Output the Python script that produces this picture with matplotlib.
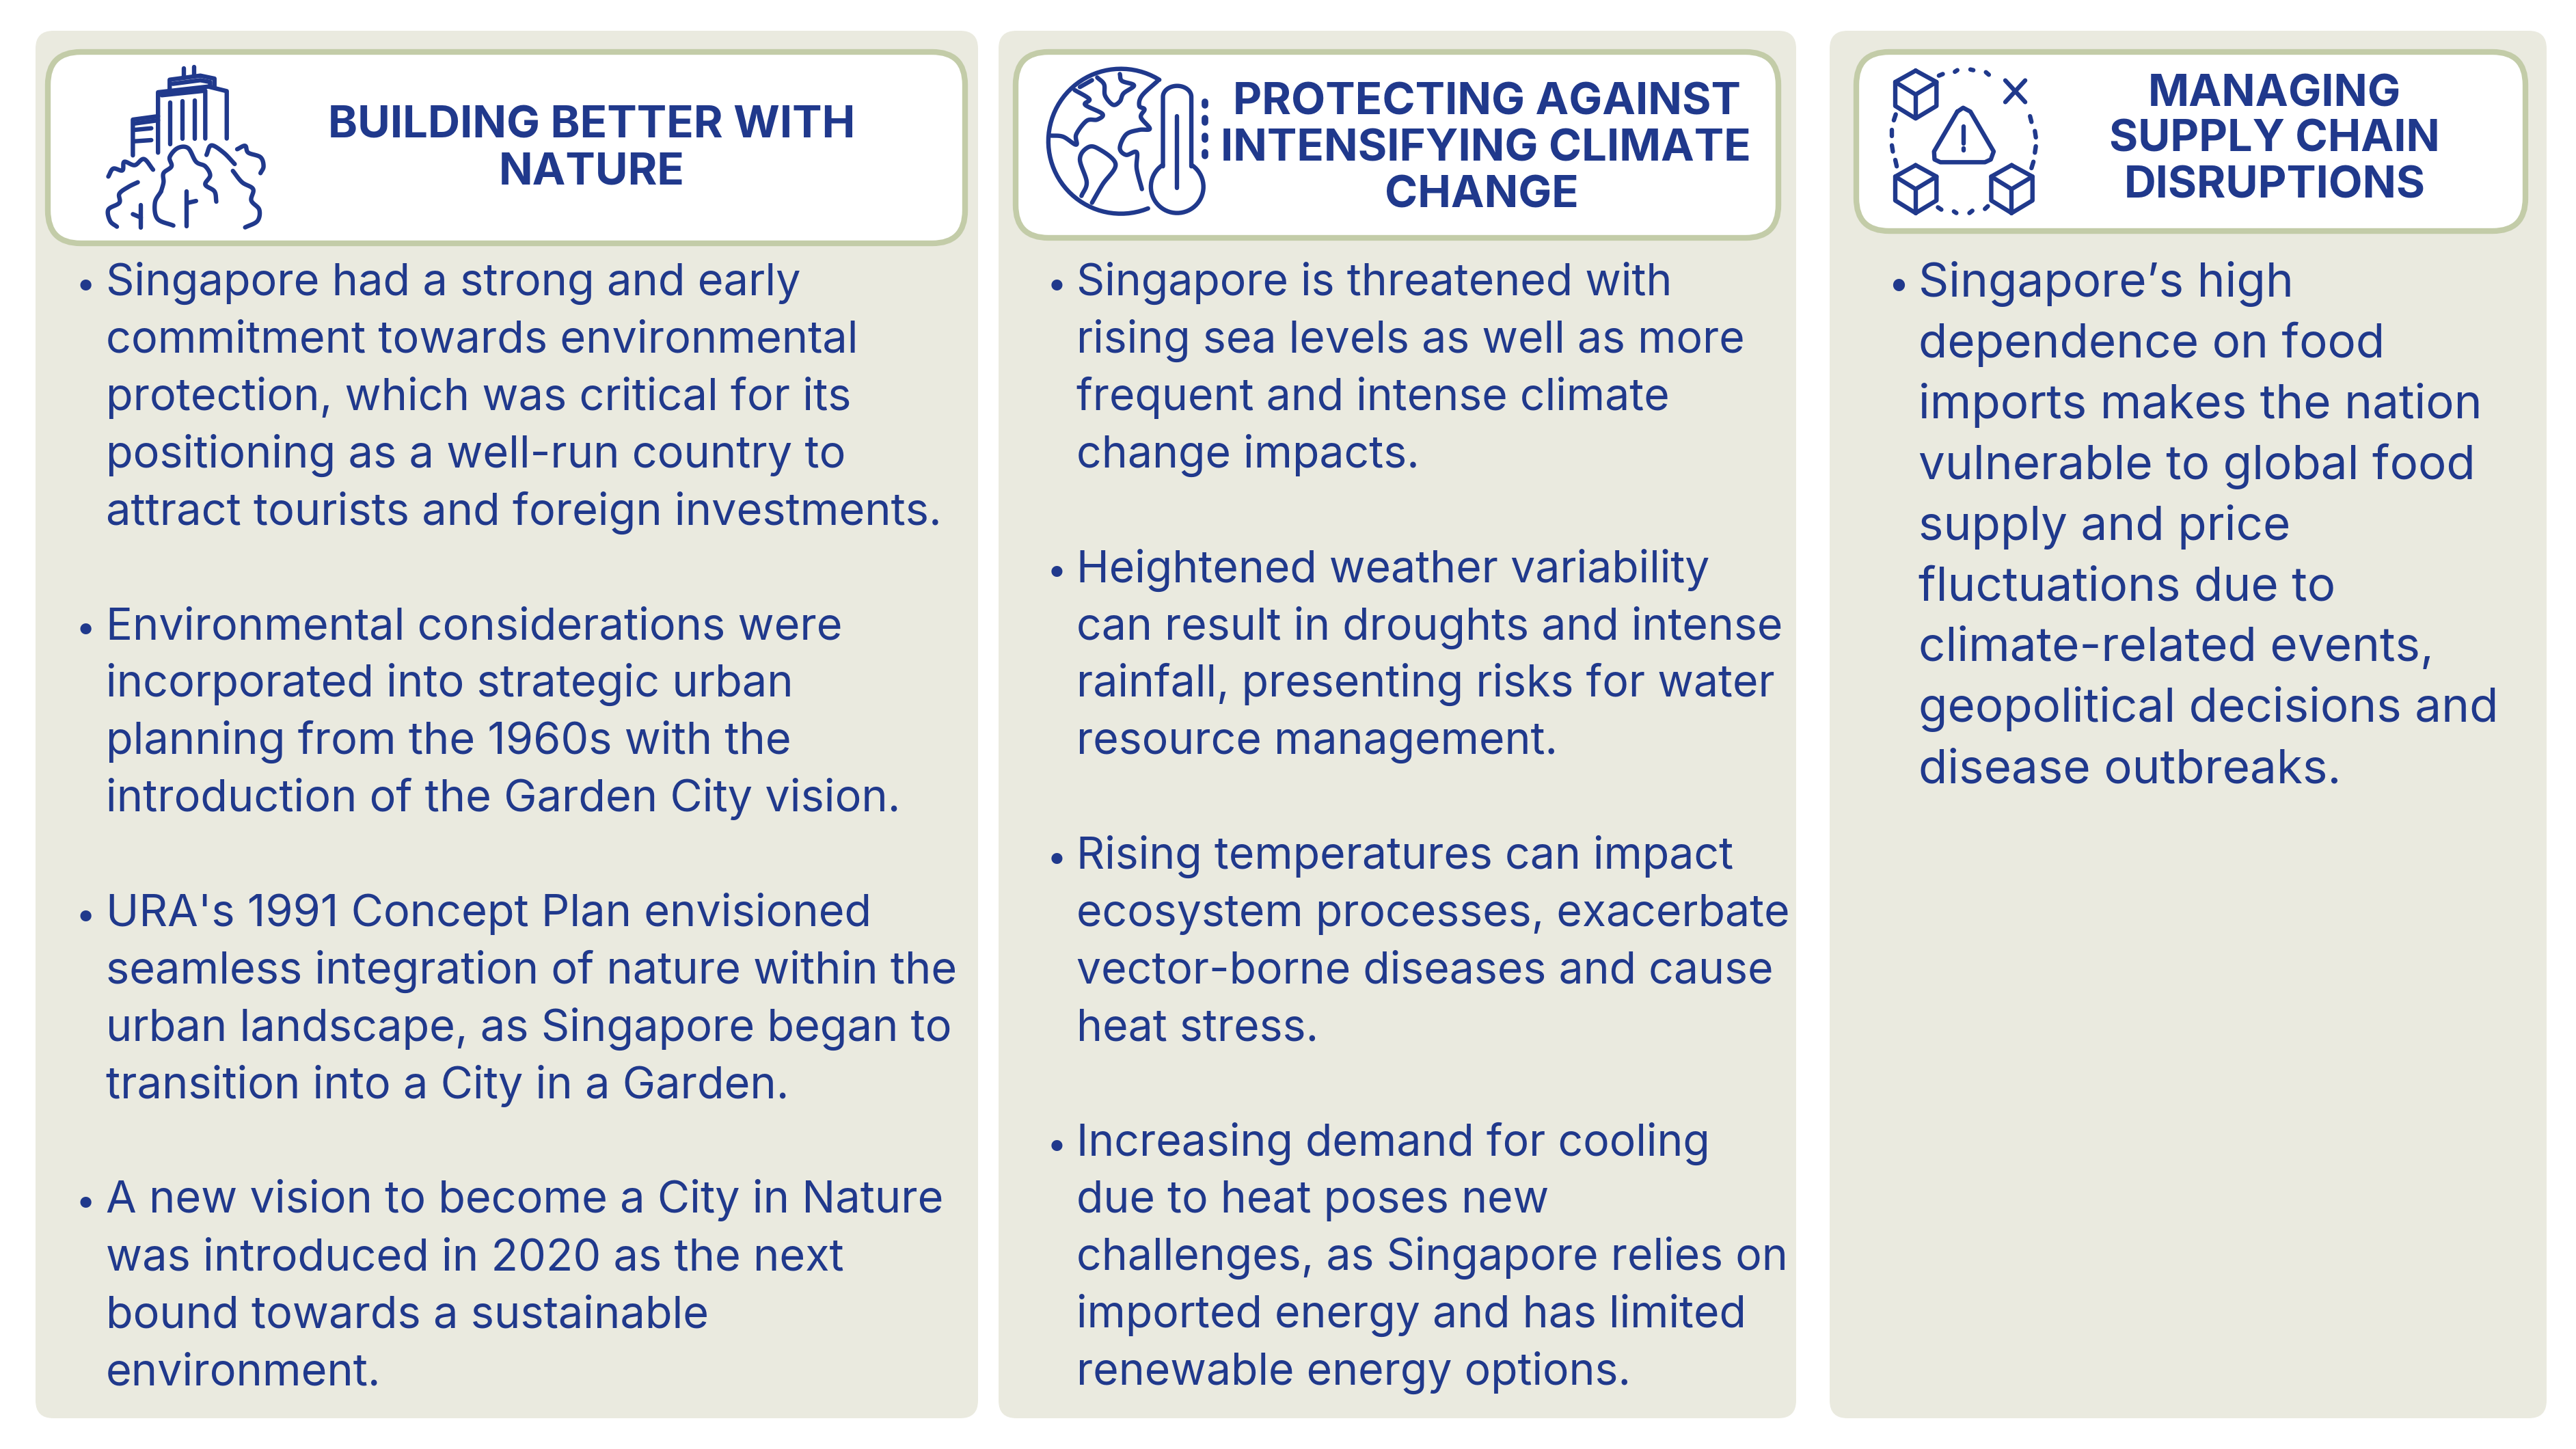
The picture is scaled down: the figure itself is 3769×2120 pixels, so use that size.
import numpy as np
import matplotlib
matplotlib.use("Agg")
import matplotlib.pyplot as plt
from matplotlib.patches import FancyBboxPatch

NAVY = "#20398C"
PANEL = "#EAEADF"
BORDER = "#C3CCA8"
BODY_FONT = ["Inter", "DejaVu Sans"]
TITLE_FONT = ["Inter", "DejaVu Sans"]

titles_1 = ["BUILDING BETTER WITH", "NATURE"]
titles_2 = ["PROTECTING AGAINST", "INTENSIFYING CLIMATE", "CHANGE"]
titles_3 = ["MANAGING", "SUPPLY CHAIN", "DISRUPTIONS"]

bullets_1 = [
    ["Singapore had a strong and early", "commitment towards environmental", "protection, which was critical for its",
     "positioning as a well-run country to", "attract tourists and foreign investments."],
    ["Environmental considerations were", "incorporated into strategic urban", "planning from the 1960s with the",
     "introduction of the Garden City vision."],
    ["URA's 1991 Concept Plan envisioned", "seamless integration of nature within the",
     "urban landscape, as Singapore began to", "transition into a City in a Garden."],
    ["A new vision to become a City in Nature", "was introduced in 2020 as the next", "bound towards a sustainable",
     "environment."],
]
bullets_2 = [
    ["Singapore is threatened with", "rising sea levels as well as more", "frequent and intense climate",
     "change impacts."],
    ["Heightened weather variability", "can result in droughts and intense", "rainfall, presenting risks for water",
     "resource management."],
    ["Rising temperatures can impact", "ecosystem processes, exacerbate", "vector-borne diseases and cause",
     "heat stress."],
    ["Increasing demand for cooling", "due to heat poses new", "challenges, as Singapore relies on",
     "imported energy and has limited", "renewable energy options."],
]
bullets_3 = [
    ["Singapore\u2019s high", "dependence on food", "imports makes the nation", "vulnerable to global food",
     "supply and price", "fluctuations due to", "climate-related events,", "geopolitical decisions and",
     "disease outbreaks."],
]

W, H = 3769, 2120
fig = plt.figure(figsize=(W / 100, H / 100), dpi=100, facecolor="white")
ax = fig.add_axes([0, 0, 1, 1])
ax.set_xlim(0, W)
ax.set_ylim(H, 0)
ax.axis("off")


def rbox(x0, y0, x1, y1, r, fc, ec="none", lw=0):
    ax.add_patch(FancyBboxPatch((x0 + r, y0 + r), x1 - x0 - 2 * r, y1 - y0 - 2 * r,
                                boxstyle=f"round,pad={r},rounding_size={r}",
                                fc=fc, ec=ec, lw=lw, mutation_aspect=1))


# panels
rbox(52, 45, 1431, 2075, 26, PANEL)
rbox(1461, 45, 2628, 2075, 26, PANEL)
rbox(2677, 45, 3726, 2075, 26, PANEL)
# headers
rbox(70, 76, 1412, 356, 48, "white", BORDER, 6)
rbox(1486, 76, 2602, 348, 48, "white", BORDER, 6)
rbox(2716, 76, 3695, 338, 48, "white", BORDER, 6)


def smooth(pts, n=10):
    p = np.array(pts, float)
    q = np.vstack([2 * p[0] - p[1], p, 2 * p[-1] - p[-2]])
    out = []
    for i in range(1, len(q) - 2):
        t = np.linspace(0, 1, n, endpoint=False)[:, None]
        a, b, c, d = q[i - 1], q[i], q[i + 1], q[i + 2]
        out.append(0.5 * (2 * b + (c - a) * t + (2 * a - 5 * b + 4 * c - d) * t ** 2 + (3 * b - a - 3 * c + d) * t ** 3))
    out.append(p[-1:])
    return np.vstack(out)


def icon(x0, sx, y0, sy):
    def draw(pts, curved=False, lw=4.6):
        arr = smooth(pts) if curved else np.array(pts, float)
        ax.plot(x0 + arr[:, 0] / sx, y0 + arr[:, 1] / sy, color=NAVY, lw=lw,
                solid_capstyle="round", solid_joinstyle="round")
    return draw


def arc(cx, cy, rx, ry, a0, a1, n=50):
    th = np.radians(np.linspace(a0, a1, n))
    return np.c_[cx + rx * np.cos(th), cy - ry * np.sin(th)]


# building and trees
d = icon(40, 1.114, 40, 3)
d([(255, 215), (255, 180)])
d([(272, 210), (272, 175)])
d([(232, 275), (232, 230), (282, 212), (305, 225), (305, 265)])
d([(237, 248), (282, 232), (298, 240), (298, 258)])
d([(213, 550), (213, 285), (295, 260), (325, 280), (325, 488)])
d([(219, 298), (290, 278), (290, 488)])
d([(233, 330), (233, 512)])
d([(253, 325), (253, 490)])
d([(273, 322), (273, 488)])
d([(172, 562), (172, 405), (213, 390)])
d([(175, 422), (213, 408)])
d([(175, 450), (202, 443)])
d([(175, 500), (202, 495)])
d([(218, 720), (222, 680), (222, 640), (235, 610), (232, 570), (245, 530), (262, 530), (275, 590), (290, 610),
   (298, 650), (290, 690), (305, 720), (308, 765)], True)
d([(218, 720), (208, 770), (212, 840), (238, 870)], True)
d([(132, 655), (140, 620), (155, 628), (158, 590), (175, 605), (190, 578), (205, 625)], True)
d([(180, 680), (165, 700), (150, 730), (150, 770), (132, 800), (135, 850), (146, 875)], True)
d([(292, 560), (300, 518), (320, 550), (338, 600)], True)
d([(342, 535), (355, 520), (360, 550), (380, 570), (385, 610), (380, 640)], True)
d([(335, 630), (350, 680), (368, 710), (365, 760), (378, 800), (375, 850), (355, 878)], True)
d([(260, 720), (260, 873)])
d([(262, 770), (275, 762)])
d([(185, 780), (185, 878)])
d([(185, 835), (172, 820)])

# globe and thermometer
d = icon(1440, 1.3, 40, 3)
d(arc(260, 500, 138, 318, 58, 292, 60))
d([(258, 205), (262, 235), (285, 255), (265, 290), (258, 325), (245, 340), (230, 300), (228, 250), (215, 220)], True)
d([(205, 232), (182, 262)])
d([(172, 275), (200, 315), (192, 340), (225, 380), (215, 405), (195, 410), (175, 470), (175, 515), (150, 480),
   (125, 475)], True)
d([(185, 740), (195, 680), (182, 580), (195, 530), (215, 530), (250, 600), (225, 690), (205, 770)], True)
d([(330, 235), (300, 300), (295, 345), (305, 360), (298, 395), (315, 445), (295, 450), (270, 470), (258, 530),
   (270, 560), (290, 548), (290, 620), (300, 710)], True)
d(np.vstack([[(340, 610)], arc(367, 305, 27, 48, 180, 0), [(394, 610)]]))
d(arc(367, 700, 50, 115, 123, 417))
d([(366, 390), (366, 705)])
for yy in (335, 408, 485, 557):
    d([(420, yy - 8), (420, yy + 8)], lw=7)

# boxes and warning
d = icon(2656, 1.41, 40, 3)
for dx, dy in ((0, 0), (0, 415), (198, 415)):
    hexagon = [(207, 190), (250, 240), (250, 345), (207, 400), (165, 345), (165, 240), (207, 190)]
    d([(a + dx, b + dy) for a, b in hexagon])
    d([(a + dx, b + dy) for a, b in [(165, 240), (207, 295), (250, 240)]])
    d([(207 + dx, 295 + dy), (207 + dx, 400 + dy)])
d([(392, 233), (433, 328)])
d([(433, 233), (392, 328)])
d([(293, 370), (305, 353), (320, 370), (368, 545), (362, 580), (350, 592), (258, 592), (246, 580), (245, 545), (293, 370)])
d([(306, 435), (306, 510)])
d([(306, 530), (306, 540)])
for seg in [[(255, 212), (263, 205)], [(288, 195), (293, 188)], [(320, 185), (326, 188)], [(352, 197), (358, 208)],
            [(166, 382), (162, 408)], [(158, 450), (158, 478)], [(158, 518), (160, 545)], [(165, 582), (168, 610)],
            [(443, 390), (446, 415)], [(453, 455), (455, 483)], [(455, 522), (453, 550)], [(450, 590), (446, 618)],
            [(253, 790), (260, 800)], [(286, 808), (291, 815)], [(318, 815), (324, 805)], [(350, 797), (356, 785)]]:
    d(seg)


def title(lines, xs, ys, size):
    for t, x, y in zip(lines, xs, ys):
        ax.text(x, y, t, ha="center", va="center", color=NAVY, fontsize=size, fontweight="bold", family=TITLE_FONT)


title(titles_1, [866, 866], [184, 252], 47)
title(titles_2, [2176, 2174, 2168], [150, 218, 286], 47)
title(titles_3, [3328, 3328, 3328], [138, 205, 273], 46.5)


def body(groups, x_bullet, x_text, y_first, step, gap, size):
    y = y_first
    for group in groups:
        ax.text(x_bullet, y, "\u2022", ha="center", va="baseline", color=NAVY, fontsize=size * 0.8, family=BODY_FONT)
        for line in group:
            ax.text(x_text, y, line, ha="left", va="baseline", color=NAVY, fontsize=size, family=BODY_FONT)
            y += step
        y += gap


body(bullets_1, 125, 155, 432, 83.9, 83.9, 46.7)
body(bullets_2, 1546, 1575, 432, 83.9, 83.9, 46.3)
body(bullets_3, 2778, 2807, 434, 88.9, 0, 49.8)

fig.savefig("out.png", dpi=100, facecolor="white")
